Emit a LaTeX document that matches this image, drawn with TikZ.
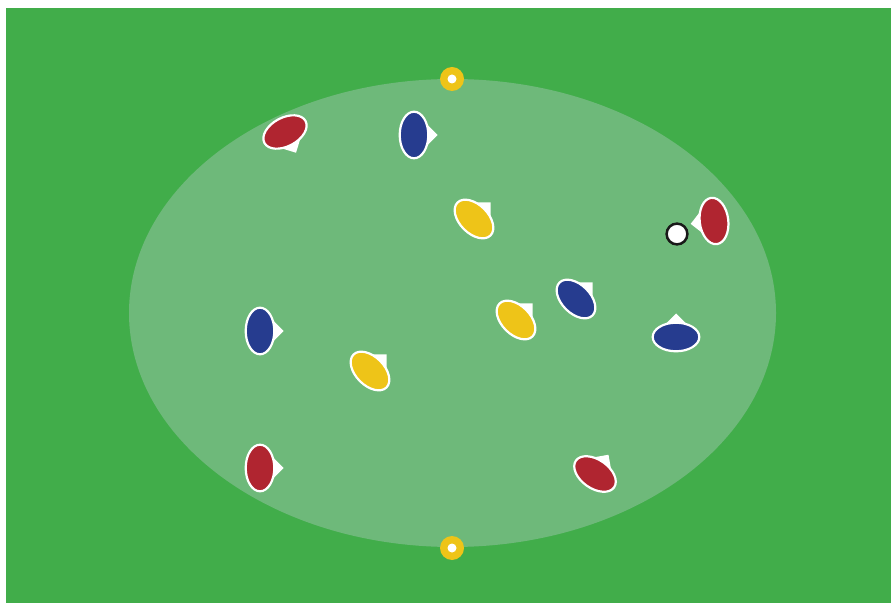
\documentclass[tikz,border=0pt]{standalone}
\definecolor{pitchdark}{RGB}{65,173,74}
\definecolor{pitchlight}{RGB}{110,185,122}
\definecolor{tred}{RGB}{176,37,48}
\definecolor{tblue}{RGB}{38,60,143}
\definecolor{tyellow}{RGB}{238,196,24}
\newcommand{\plyr}[4]{%
  \begin{scope}[shift={(#1,#2)},rotate=#3]
    \fill[white] (23.5,0) -- (10.5,13) -- (10.5,-13) -- cycle;
    \draw[line width=2.2pt,white,fill=#4] (0,0) ellipse [x radius=14.3, y radius=23.3];
  \end{scope}}
\begin{document}
\begin{tikzpicture}[x=1pt,y=1pt]
\useasboundingbox (0,0) rectangle (891,603);
\fill[white] (0,0) rectangle (891,603);
\fill[pitchdark] (6,0) rectangle (891,595);
\fill[pitchlight] (452.5,290) ellipse [x radius=323.5, y radius=234];
% goals
\foreach \gy in {524,55} {
  \fill[tyellow] (452,\gy) circle (12);
  \fill[white] (452,\gy) circle (4.5);
}
% players
\plyr{285}{471}{-62}{tred}
\plyr{414}{468}{0}{tblue}
\plyr{474}{384}{45}{tyellow}
\plyr{714}{382}{187}{tred}
\plyr{260}{272}{0}{tblue}
\plyr{370}{232}{45}{tyellow}
\plyr{516}{283}{45}{tyellow}
\plyr{576}{304}{45}{tblue}
\plyr{676}{266}{90}{tblue}
\plyr{260}{135}{0}{tred}
\plyr{595}{129}{55}{tred}
% ball
\draw[line width=2.5pt,fill=white,draw=black!90] (677,369) circle (10.4);
\end{tikzpicture}
\end{document}
